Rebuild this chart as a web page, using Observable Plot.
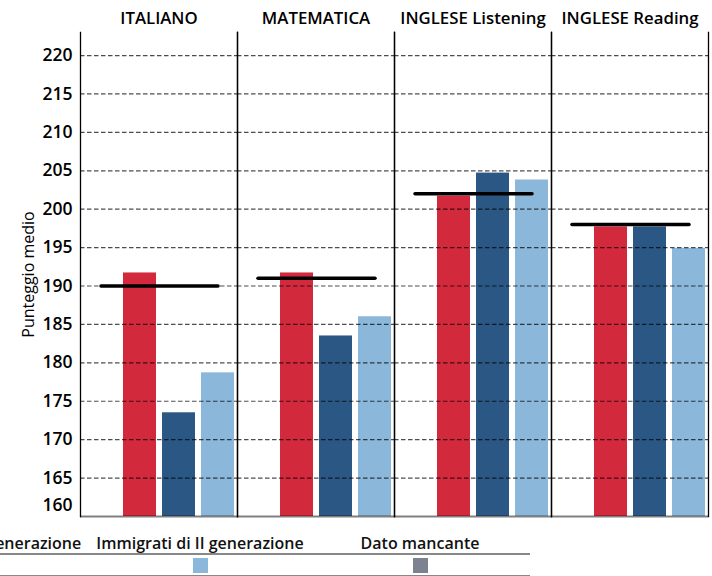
<!DOCTYPE html>
<html><head><meta charset="utf-8">
<script src="https://cdn.jsdelivr.net/npm/d3@7"></script>
<script src="https://cdn.jsdelivr.net/npm/@observablehq/plot@0.6"></script>
<style>
body{margin:0;background:#fff;overflow:hidden;font-family:"Open Sans",sans-serif;}
#wrap{position:relative;width:712px;height:576px;overflow:hidden;background:#fff;}
#legend{position:absolute;top:533px;left:-350px;display:flex;}
.entry{width:220px;}
.lab{height:20px;line-height:20px;text-align:center;font-size:16px;font-weight:600;color:#111;white-space:nowrap;}
.sw{height:20px;border-top:2px solid #888;border-bottom:2px solid #888;display:flex;align-items:center;justify-content:center;}
.sw span{width:15px;height:15px;display:block;}
</style>
</head><body>
<div id="wrap"><div id="chart"></div><div id="legend"></div></div>
<script>
const subjects = ["ITALIANO", "MATEMATICA", "INGLESE Listening", "INGLESE Reading"];
const slots = ["Dato mancante", "Nativi", "Immigrati di I generazione", "Immigrati di II generazione"];
const nativi = [191.7, 191.7, 201.7, 197.7];
const immigratiI = [173.5, 183.5, 204.7, 197.7];
const immigratiII = [178.7, 186.0, 203.8, 194.9];
const media = [190, 191, 202, 198];
const yTicks = [165, 170, 175, 180, 185, 190, 195, 200, 205, 210, 215, 220];
const legendOrder = ["Nativi", "Immigrati di I generazione", "Immigrati di II generazione", "Dato mancante"];
const colorRange = ["#7c8290", "#d3293d", "#2b5784", "#8ab7da"];

const rows = [];
subjects.forEach((s, i) => {
  rows.push({subject: s, group: slots[1], value: nativi[i]});
  rows.push({subject: s, group: slots[2], value: immigratiI[i]});
  rows.push({subject: s, group: slots[3], value: immigratiII[i]});
});
const avgRows = [];
subjects.forEach((s, i) => {
  avgRows.push({subject: s, group: slots[0], value: media[i]});
  avgRows.push({subject: s, group: slots[3], value: media[i]});
});

const chart = Plot.plot({
  width: 712,
  height: 530,
  marginLeft: 79,
  marginRight: 3,
  marginTop: 32,
  marginBottom: 14,
  style: {fontFamily: "Open Sans, sans-serif", background: "#fff", color: "#000"},
  fx: {domain: subjects, padding: 0},
  x: {domain: slots, paddingInner: 0.16, paddingOuter: 0.08, axis: null},
  y: {domain: [160, 223]},
  color: {domain: slots, range: colorRange},
  marks: [
    Plot.barY(rows, {fx: "subject", x: "group", y1: 160, y2: "value", fill: "group"}),
    Plot.ruleY(yTicks, {stroke: "#000", strokeOpacity: 0.7, strokeDasharray: "4.5,2.5", strokeWidth: 1.2}),
    Plot.ruleY([160], {stroke: "#000", strokeOpacity: 0.5, strokeWidth: 2}),
    Plot.frame({anchor: "left", stroke: "#000", strokeWidth: 1.3}),
    Plot.frame({anchor: "right", stroke: "#000", strokeWidth: 1.3}),
    Plot.line(avgRows, {fx: "subject", x: "group", y: "value", z: "subject", stroke: "#000", strokeWidth: 3.5, strokeLinecap: "round"}),
    Plot.axisY(yTicks, {tickSize: 0, tickPadding: 8, fontSize: 17.5, fontWeight: 600, label: "Punteggio medio", labelAnchor: "center", labelOffset: 58, labelArrow: "none"}),
    Plot.axisY([160], {tickSize: 0, tickPadding: 8, fontSize: 17.5, fontWeight: 600, dy: -11, label: null}),
    Plot.axisFx({anchor: "top", tickSize: 0, tickPadding: 9, fontSize: 16.8, fontWeight: 600, label: null})
  ]
});
document.getElementById("chart").appendChild(chart);
chart.querySelectorAll("g[aria-label='y-axis label'] text").forEach(t => { t.setAttribute("font-size", "16"); t.setAttribute("font-weight", "500"); });

const leg = document.getElementById("legend");
legendOrder.forEach(g => {
  const e = document.createElement("div"); e.className = "entry";
  const l = document.createElement("div"); l.className = "lab"; l.textContent = g;
  const s = document.createElement("div"); s.className = "sw";
  const sp = document.createElement("span"); sp.style.background = colorRange[slots.indexOf(g)];
  s.appendChild(sp); e.appendChild(l); e.appendChild(s); leg.appendChild(e);
});
</script>
</body></html>
